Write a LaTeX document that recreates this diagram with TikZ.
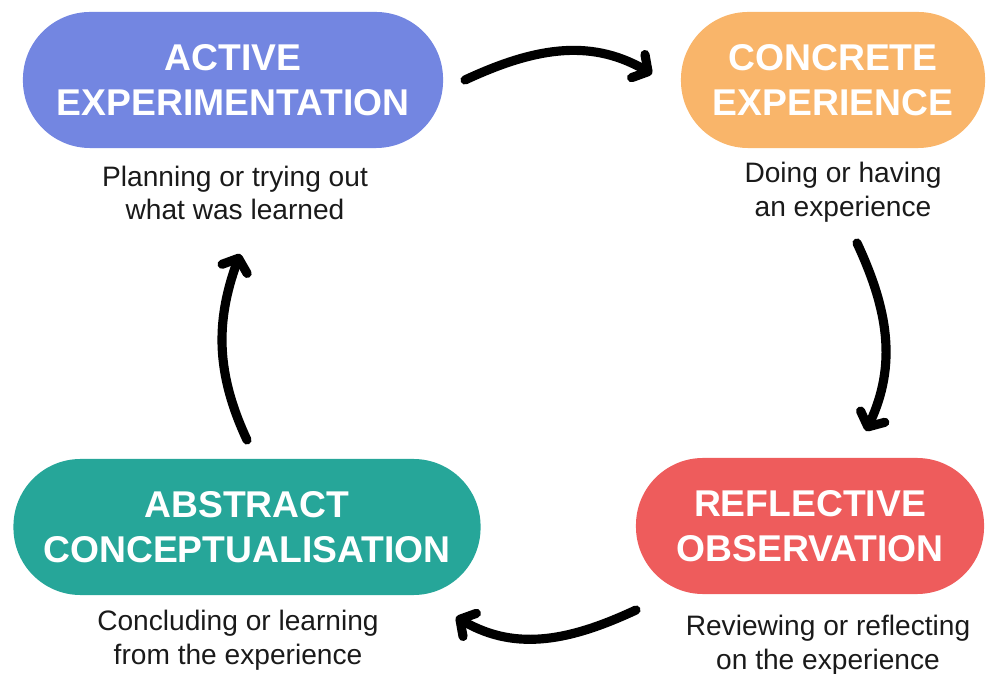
\documentclass[tikz,border=0pt]{standalone}
\usepackage{fontspec}
\setmainfont{Liberation Sans}
\usetikzlibrary{arrows.meta}

\definecolor{aecol}{RGB}{115,134,225}
\definecolor{cecol}{RGB}{249,181,106}
\definecolor{rocol}{RGB}{238,92,92}
\definecolor{accol}{RGB}{38,166,153}
\definecolor{desccol}{RGB}{26,26,26}

\tikzset{
  stage/.style={rounded corners=1.68cm, minimum height=3.4cm, inner sep=0pt,
    text=white, align=center,
    font=\fontsize{26.5}{32}\selectfont\bfseries},
  desc/.style={align=center, text=desccol, inner sep=0pt,
    font=\fontsize{20}{24}\selectfont},
  cycle/.style={line width=6.5pt, line cap=round,
    -{Straight Barb[round,length=8pt,width=19pt]}}
}

\begin{document}
\begin{tikzpicture}[x=0.025cm, y=-0.025cm]
  \useasboundingbox (0,0) rectangle (986,674);

  % the four stages
  \node[stage, fill=aecol, minimum width=10.5cm]   (aebox) at (233,80)  {ACTIVE\\EXPERIMENTATION};
  \node[stage, fill=cecol, minimum width=7.6cm]    (cebox) at (833,80)  {CONCRETE\\EXPERIENCE};
  \node[stage, fill=rocol, minimum width=8.7cm]    (robox) at (810,526) {REFLECTIVE\\OBSERVATION};
  \node[stage, fill=accol, minimum width=11.675cm] (acbox) at (247,527) {ABSTRACT\\CONCEPTUALISATION};

  % what each stage means
  \node[desc] (aedesc) at (235,193) {Planning or trying out\\what was learned};
  \node[desc] (cedesc) at (843,192) {Doing or having\\an experience};
  \node[desc] (rodesc) at (828,645) {Reviewing or reflecting\\on the experience};
  \node[desc] (acdesc) at (238,640) {Concluding or learning\\from the experience};

  % ends of the cycle arrows
  \coordinate (top-from)    at (465,80);
  \coordinate (top-to)      at (652,74);
  \coordinate (right-from)  at (857,243);
  \coordinate (right-to)    at (866,431);
  \coordinate (bottom-from) at (636,610);
  \coordinate (bottom-to)   at (456,617);
  \coordinate (left-from)   at (247,440);
  \coordinate (left-to)     at (240,254);

  \draw[cycle] (top-from)    to[out=25,  in=150] (top-to);
  \draw[cycle] (right-from)  to[out=-65, in=65]  (right-to);
  \draw[cycle] (bottom-from) to[out=205, in=-30] (bottom-to);
  \draw[cycle] (left-from)   to[out=115, in=-110] (left-to);
\end{tikzpicture}
\end{document}
